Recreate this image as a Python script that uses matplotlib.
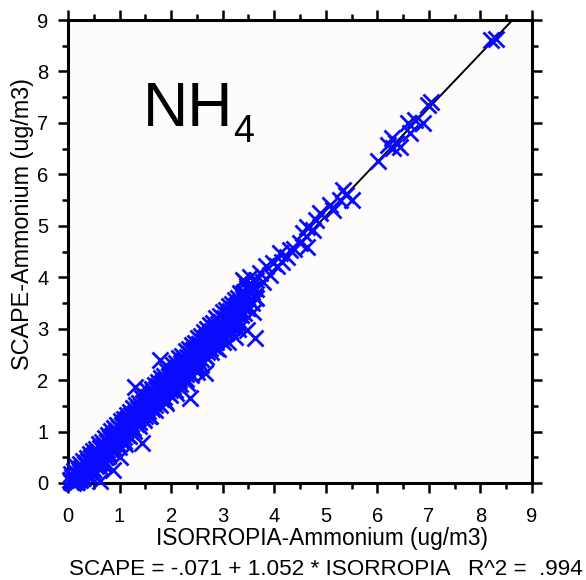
import matplotlib
matplotlib.use('Agg')
import numpy as np
import matplotlib.pyplot as plt
from matplotlib.ticker import MultipleLocator

plt.rcParams['font.family'] = ['Liberation Sans', 'DejaVu Sans']

# regression from the footer
intercept = -0.071
slope = 1.052
r2 = 0.994

# ISORROPIA (x) vs SCAPE (y) ammonium, ug/m3
# dense core of the cloud: one x column, upper / middle / lower scape values
core_x = [
    0.06, 0.12, 0.18, 0.24, 0.30, 0.36, 0.42, 0.48, 0.54, 0.60, 0.66, 0.72,
    0.78, 0.84, 0.90, 0.96, 1.02, 1.08, 1.14, 1.20, 1.26, 1.32, 1.38, 1.44,
    1.50, 1.56, 1.62, 1.68, 1.74, 1.80, 1.86, 1.92, 1.98, 2.04, 2.10, 2.16,
    2.22, 2.28, 2.34, 2.40, 2.46, 2.52, 2.58, 2.64, 2.70, 2.76, 2.82, 2.88,
    2.94, 3.00, 3.06, 3.12, 3.18, 3.24, 3.30, 3.36, 3.42, 3.48, 3.56, 3.64,
]
core_hi = [
    0.18, 0.24, 0.31, 0.36, 0.43, 0.48, 0.56, 0.62, 0.67, 0.75, 0.80, 0.88,
    0.93, 1.01, 1.06, 1.12, 1.20, 1.25, 1.33, 1.38, 1.46, 1.51, 1.56, 1.65,
    1.70, 1.78, 1.83, 1.91, 1.96, 2.04, 2.08, 2.17, 2.22, 2.30, 2.34, 2.43,
    2.47, 2.56, 2.60, 2.68, 2.73, 2.81, 2.86, 2.94, 2.99, 3.07, 3.11, 3.20,
    3.24, 3.32, 3.36, 3.44, 3.48, 3.56, 3.60, 3.68, 3.72, 3.80, 3.85, 3.95,
]
core_mid = [
    0.06, 0.09, 0.15, 0.21, 0.27, 0.33, 0.40, 0.45, 0.53, 0.58, 0.66, 0.70,
    0.79, 0.83, 0.91, 0.96, 1.04, 1.08, 1.17, 1.21, 1.29, 1.34, 1.42, 1.46,
    1.55, 1.59, 1.67, 1.71, 1.80, 1.84, 1.92, 1.97, 2.05, 2.09, 2.18, 2.22,
    2.30, 2.35, 2.43, 2.47, 2.56, 2.60, 2.68, 2.73, 2.81, 2.85, 2.93, 2.98,
    3.06, 3.10, 3.19, 3.23, 3.31, 3.36, 3.44, 3.48, 3.56, 3.61, 3.71, 3.77,
]
core_lo = [
    0.02, 0.03, 0.02, 0.06, 0.10, 0.16, 0.22, 0.27, 0.34, 0.39, 0.46, 0.51,
    0.58, 0.65, 0.69, 0.77, 0.82, 0.89, 0.94, 1.02, 1.06, 1.15, 1.19, 1.27,
    1.31, 1.39, 1.44, 1.51, 1.55, 1.63, 1.68, 1.76, 1.80, 1.88, 1.92, 2.00,
    2.04, 2.12, 2.16, 2.25, 2.29, 2.37, 2.41, 2.49, 2.54, 2.62, 2.66, 2.74,
    2.79, 2.87, 2.92, 3.00, 3.04, 3.12, 3.17, 3.26, 3.31, 3.40, 3.49, 3.60,
]

# second, staggered column of the core
core2_x = [
    0.09, 0.15, 0.21, 0.27, 0.33, 0.39, 0.45, 0.51, 0.57, 0.63,
    0.69, 0.75, 0.81, 0.87, 0.93, 0.99, 1.05, 1.11, 1.17, 1.23,
    1.29, 1.35, 1.41, 1.47, 1.53, 1.59, 1.65, 1.71, 1.77, 1.83,
    1.89, 1.95, 2.01, 2.07, 2.13, 2.19, 2.25, 2.31, 2.37, 2.43,
    2.49, 2.55, 2.61, 2.67, 2.73, 2.79, 2.85, 2.91, 2.97, 3.03,
    3.09, 3.15, 3.21, 3.27, 3.33, 3.39, 3.45, 3.52, 3.60,
]
core2_hi = [
    0.12, 0.17, 0.25, 0.30, 0.37, 0.42, 0.50, 0.55, 0.61, 0.69,
    0.74, 0.80, 0.88, 0.93, 0.99, 1.07, 1.12, 1.19, 1.24, 1.32,
    1.37, 1.45, 1.49, 1.57, 1.62, 1.70, 1.75, 1.82, 1.87, 1.95,
    2.00, 2.08, 2.13, 2.20, 2.25, 2.33, 2.38, 2.45, 2.50, 2.58,
    2.63, 2.71, 2.76, 2.83, 2.88, 2.96, 3.01, 3.09, 3.13, 3.21,
    3.26, 3.34, 3.39, 3.46, 3.51, 3.59, 3.64, 3.73, 3.80,
]
core2_lo = [
    0.01, 0.01, 0.07, 0.13, 0.20, 0.26, 0.32, 0.39, 0.45, 0.51,
    0.58, 0.64, 0.70, 0.76, 0.83, 0.89, 0.95, 1.02, 1.08, 1.14,
    1.21, 1.27, 1.33, 1.40, 1.46, 1.52, 1.59, 1.65, 1.71, 1.77,
    1.84, 1.90, 1.96, 2.03, 2.09, 2.15, 2.22, 2.28, 2.34, 2.41,
    2.47, 2.53, 2.59, 2.66, 2.72, 2.78, 2.85, 2.91, 2.97, 3.04,
    3.10, 3.16, 3.23, 3.29, 3.35, 3.42, 3.48, 3.55, 3.64,
]

# scattered points around the core, the upper tail and the outliers
isorropia = [
    0.03, 0.08, 0.10, 0.15, 0.18, 0.22, 0.25, 0.28, 0.32, 0.35, 0.38, 0.42,
    0.45, 0.48, 0.52, 0.55, 0.58, 0.62, 0.65, 0.68, 0.72, 0.75, 0.78, 0.82,
    0.85, 0.88, 0.92, 0.95, 0.98, 1.02, 1.05, 1.08, 1.12, 1.15, 1.18, 1.22,
    1.25, 1.28, 1.32, 1.35, 1.38, 1.42, 1.45, 1.48, 1.52, 1.55, 1.58, 1.62,
    1.65, 1.68, 1.72, 1.75, 1.78, 1.82, 1.85, 1.88, 1.92, 1.95, 1.98, 2.02,
    2.05, 2.08, 2.12, 2.15, 2.18, 2.22, 2.25, 2.28, 2.32, 2.35, 2.38, 2.42,
    2.45, 2.48, 2.52, 2.55, 2.58, 2.62, 2.65, 2.68, 2.72, 2.75, 2.78, 2.82,
    2.85, 2.88, 2.92, 2.95, 3.00, 3.05, 3.10, 3.15, 3.20, 3.25, 3.30, 3.38,
    3.45, 3.50, 3.55, 3.62,
    0.50, 0.70, 1.10, 1.60, 1.90, 2.10, 2.30, 2.50, 2.90, 3.10, 3.30,
    3.34, 3.40, 3.47, 3.53, 3.72, 3.85, 3.98, 4.05, 4.11, 4.24, 4.31, 4.50,
    4.56, 4.63, 4.63, 4.76, 4.82, 4.89, 5.08, 5.14, 5.28, 5.34, 5.40, 5.50,
    3.78, 3.92, 4.16, 4.38,
    6.01, 6.21, 6.28, 6.31, 6.37, 6.44, 6.59, 6.63, 6.73, 6.89, 6.99, 7.05,
    8.21, 8.30,
    3.43, 1.30, 1.78, 2.37, 2.66, 3.24, 3.47, 3.63, 3.59, 1.43, 1.01, 0.88,
    0.62,
]
scape = [
    0.05, 0.12, 0.00, 0.20, 0.05, 0.15, 0.30, 0.10, 0.22, 0.38, 0.18, 0.30,
    0.48, 0.25, 0.40, 0.58, 0.35, 0.50, 0.70, 0.42, 0.62, 0.80, 0.52, 0.72,
    0.92, 0.62, 0.85, 1.02, 0.70, 0.95, 1.12, 0.82, 1.05, 1.25, 0.92, 1.15,
    1.35, 1.02, 1.28, 1.45, 1.10, 1.38, 1.55, 1.22, 1.48, 1.68, 1.30, 1.58,
    1.78, 1.42, 1.68, 1.88, 1.52, 1.80, 1.98, 1.60, 1.90, 2.08, 1.72, 2.00,
    2.18, 1.80, 2.12, 2.28, 1.92, 2.20, 2.40, 2.02, 2.32, 2.50, 2.10, 2.42,
    2.60, 2.22, 2.55, 2.70, 2.30, 2.65, 2.82, 2.45, 2.75, 2.92, 2.55, 2.88,
    3.02, 2.62, 2.98, 3.12, 2.75, 3.15, 3.28, 2.95, 3.30, 3.45, 3.10, 3.48,
    3.60, 3.40, 3.70, 3.62,
    0.15, 0.35, 0.75, 1.30, 1.55, 1.75, 1.95, 2.15, 2.60, 2.75, 3.00,
    3.69, 3.95, 3.82, 4.01, 4.08, 4.21, 4.28, 4.21, 4.47, 4.40, 4.53, 4.66,
    4.86, 4.98, 4.59, 4.92, 5.11, 5.25, 5.40, 5.31, 5.50, 5.70, 5.60, 5.50,
    3.90, 4.05, 4.30, 4.55,
    6.25, 6.57, 6.71, 6.51, 6.61, 6.54, 7.00, 6.80, 7.06, 6.99, 7.35, 7.41,
    8.61, 8.64,
    3.91, 1.86, 2.39, 1.65, 2.14, 2.84, 2.97, 2.82, 3.33, 0.78, 0.51, 0.25,
    0.03,
]

all_x = core_x * 3 + core2_x * 2 + isorropia
all_y = core_hi + core_mid + core_lo + core2_hi + core2_lo + scape

fig = plt.figure(figsize=(5.86, 5.80), dpi=100)
fig.patch.set_facecolor('white')
ax = fig.add_axes([68 / 586, 97 / 580, 464 / 586, 463 / 580])
ax.set_facecolor('#fdfcfb')

ax.plot(all_x, all_y, 'x', color='#0a0aff', markersize=11.5,
        markeredgewidth=2.0, clip_on=False, zorder=3)

fit_x = np.array([0.0, 9.0])
ax.plot(fit_x, intercept + slope * fit_x, color='black', linewidth=1.4, zorder=2)

ax.set_xlim(0, 9)
ax.set_ylim(0, 9)
ax.xaxis.set_major_locator(MultipleLocator(1))
ax.yaxis.set_major_locator(MultipleLocator(1))
ax.xaxis.set_minor_locator(MultipleLocator(0.5))
ax.yaxis.set_minor_locator(MultipleLocator(0.5))
for s in ax.spines.values():
    s.set_linewidth(2.2)
ax.tick_params(which='both', direction='out', top=True, right=True, width=1.8)
ax.tick_params(which='major', length=7)
ax.tick_params(which='minor', length=4)
ax.tick_params(axis='x', which='major', pad=10, labelsize=14.5)
ax.tick_params(axis='y', which='major', pad=7, labelsize=14.5)

ax.set_xlabel('ISORROPIA-Ammonium (ug/m3)', fontsize=16.3)
ax.set_ylabel('SCAPE-Ammonium (ug/m3)', fontsize=16.8)
ax.xaxis.set_label_coords(0.548, -0.095)
ax.yaxis.set_label_coords(-0.073, 0.56)

fig.text(143 / 586, 1 - 126 / 580, 'NH', fontsize=45, ha='left', va='baseline')
fig.text(233 / 586, 1 - 142 / 580, '4', fontsize=27, ha='left', va='baseline')

# footer, leading zeros dropped like the original software printed them
footer = 'SCAPE = %.3f + %.3f * ISORROPIA   R^2 =  %.3f' % (intercept, slope, r2)
footer = footer.replace('-0.', '-.').replace(' 0.', ' .')
fig.text(69 / 586, 1 - 575 / 580, footer, fontsize=16.2, ha='left', va='baseline')

fig.savefig('out.png', dpi=100)
